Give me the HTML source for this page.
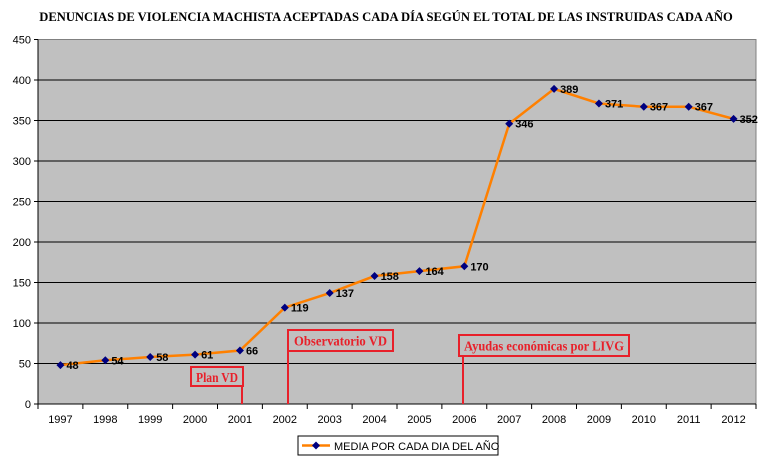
<!DOCTYPE html>
<html><head><meta charset="utf-8"><style>body{margin:0;background:#fff}</style></head><body>
<svg width="768" height="462" xmlns="http://www.w3.org/2000/svg" font-family="Liberation Sans, Arial, sans-serif">
<text x="386" y="21" text-anchor="middle" font-family="Liberation Serif, serif" font-weight="bold" font-size="12.6">DENUNCIAS DE VIOLENCIA MACHISTA ACEPTADAS CADA DÍA SEGÚN EL TOTAL DE LAS INSTRUIDAS CADA AÑO</text>
<rect x="38" y="39.5" width="718" height="364.5" fill="#c0c0c0" stroke="#808080" stroke-width="1"/>
<g stroke="#000" stroke-width="1">
<line x1="38" x2="756" y1="80" y2="80"/><line x1="38" x2="756" y1="120.5" y2="120.5"/><line x1="38" x2="756" y1="161" y2="161"/><line x1="38" x2="756" y1="201.5" y2="201.5"/><line x1="38" x2="756" y1="242" y2="242"/><line x1="38" x2="756" y1="282.5" y2="282.5"/><line x1="38" x2="756" y1="323" y2="323"/><line x1="38" x2="756" y1="363.5" y2="363.5"/>
<line x1="38" x2="756" y1="404" y2="404"/><line x1="38" x2="38" y1="39.5" y2="404"/>
</g>
<g font-size="11" text-anchor="end">
<text x="31" y="43.5">450</text><text x="31" y="84">400</text><text x="31" y="124.5">350</text><text x="31" y="165">300</text><text x="31" y="205.5">250</text><text x="31" y="246">200</text><text x="31" y="286.5">150</text><text x="31" y="327">100</text><text x="31" y="367.5">50</text><text x="31" y="408">0</text>
</g>
<g stroke="#000"><line x1="34" x2="38" y1="39.5" y2="39.5"/><line x1="34" x2="38" y1="80" y2="80"/><line x1="34" x2="38" y1="120.5" y2="120.5"/><line x1="34" x2="38" y1="161" y2="161"/><line x1="34" x2="38" y1="201.5" y2="201.5"/><line x1="34" x2="38" y1="242" y2="242"/><line x1="34" x2="38" y1="282.5" y2="282.5"/><line x1="34" x2="38" y1="323" y2="323"/><line x1="34" x2="38" y1="363.5" y2="363.5"/><line x1="34" x2="38" y1="404" y2="404"/></g>
<g id="xt" stroke="#000"></g>
<g id="xl" font-size="11" text-anchor="middle"></g>
<polyline id="ln" fill="none" stroke="#ff8000" stroke-width="2.5"/>
<g id="mk" fill="#000080"></g>
<g id="lb" font-size="11" font-weight="bold"></g>
<g fill="none" stroke="#e8202a" stroke-width="2">
<rect x="191" y="367" width="52" height="19"/><line x1="242" y1="386" x2="242" y2="404"/>
<rect x="288" y="330" width="105" height="21"/><line x1="288" y1="351" x2="288" y2="404"/>
<rect x="459" y="335" width="170" height="21"/><line x1="463" y1="356" x2="463" y2="404"/>
</g>
<g fill="#e8202a" font-family="Liberation Serif, serif" font-weight="bold" font-size="13.5" lengthAdjust="spacingAndGlyphs">
<text x="196" y="382" textLength="42" lengthAdjust="spacingAndGlyphs">Plan VD</text>
<text x="294" y="345.5" textLength="93" lengthAdjust="spacingAndGlyphs">Observatorio VD</text>
<text x="464" y="350.5" textLength="160" lengthAdjust="spacingAndGlyphs">Ayudas económicas por LIVG</text>
</g>
<rect x="298" y="436" width="200" height="19" fill="#fff" stroke="#000"/>
<line x1="302" x2="330" y1="445.5" y2="445.5" stroke="#ff8000" stroke-width="2.5"/>
<path d="M316 441.5L320 445.5L316 449.5L312 445.5Z" fill="#000080"/>
<text x="334" y="450" font-size="11">MEDIA POR CADA DIA DEL AÑO</text>
</svg>
<script>
const v=[48,54,58,61,66,119,137,158,164,170,346,389,371,367,367,352];
const ns="http://www.w3.org/2000/svg",w=718/16;let pts=[];
const g=id=>document.getElementById(id);
for(let i=0;i<=16;i++){const x=38+i*w;const l=document.createElementNS(ns,"line");l.setAttribute("x1",x);l.setAttribute("x2",x);l.setAttribute("y1",404);l.setAttribute("y2",409);g("xt").appendChild(l);}
v.forEach((d,i)=>{const x=38+(i+.5)*w,y=404-d*0.81;pts.push(x+","+y);
let t=document.createElementNS(ns,"text");t.setAttribute("x",x);t.setAttribute("y",423);t.textContent=1997+i;g("xl").appendChild(t);
let p=document.createElementNS(ns,"path");p.setAttribute("d",`M${x} ${y-4}L${x+4} ${y}L${x} ${y+4}L${x-4} ${y}Z`);g("mk").appendChild(p);
t=document.createElementNS(ns,"text");t.setAttribute("x",x+6);t.setAttribute("y",y+4);t.textContent=d;g("lb").appendChild(t);});
g("ln").setAttribute("points",pts.join(" "));
</script>
</body></html>
